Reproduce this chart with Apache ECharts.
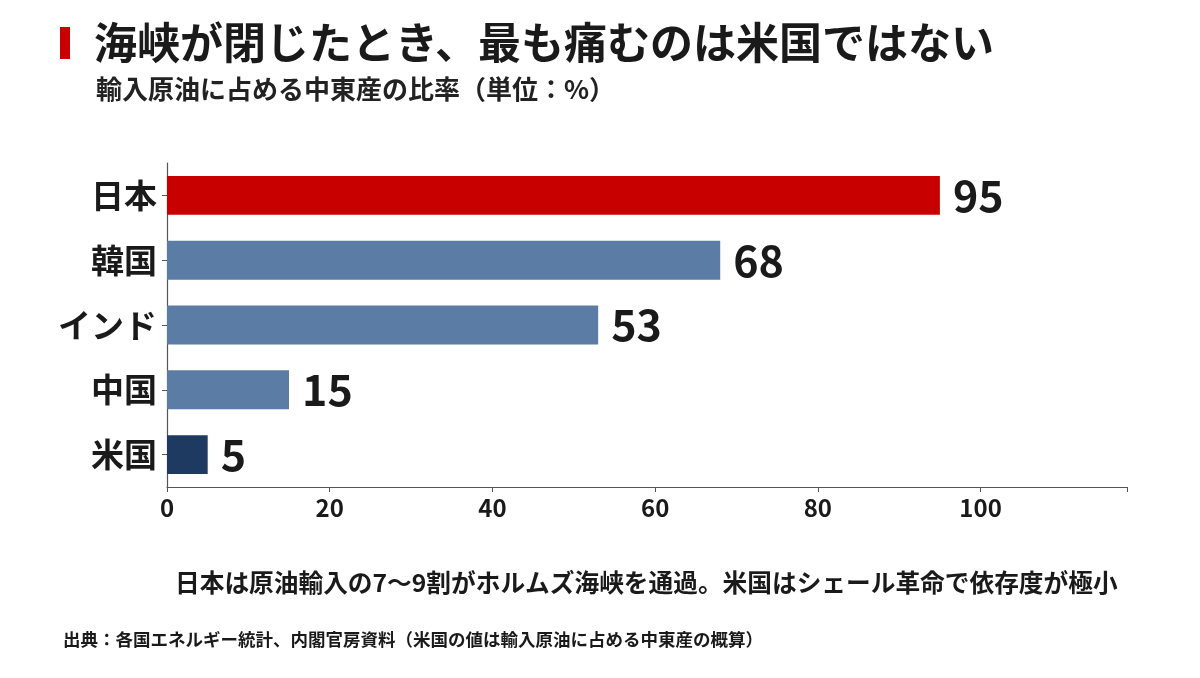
<!DOCTYPE html>
<html>
<head>
<meta charset="utf-8">
<script src="https://cdn.jsdelivr.net/npm/echarts@6/dist/echarts.min.js"></script>
<style>
html,body{margin:0;padding:0;background:#fff;}
#chart{width:1200px;height:678px;}
</style>
</head>
<body>
<div id="chart"></div>
<script>
const categories = ['日本', '韓国', 'インド', '中国', '米国'];
const values = [95, 68, 53, 15, 5];
const barColors = ['#c80000', '#5b7da5', '#5b7da5', '#5b7da5', '#1f3a60'];
const xTicks = [0, 20, 40, 60, 80, 100];
const titleText = '海峡が閉じたとき、最も痛むのは米国ではない';
const subtitleText = '輸入原油に占める中東産の比率（単位：%）';
const noteText = '日本は原油輸入の7〜9割がホルムズ海峡を通過。米国はシェール革命で依存度が極小';
const sourceText = '出典：各国エネルギー統計、内閣官房資料（米国の値は輸入原油に占める中東産の概算）';

const FONT = '"Noto Sans CJK JP", "Noto Sans", sans-serif';
const chart = echarts.init(document.getElementById('chart'));
chart.setOption({
  backgroundColor: '#fff',
  animation: false,
  textStyle: { fontFamily: FONT },
  title: [
    { text: titleText, left: 89, top: 16, textStyle: { fontFamily: FONT, fontSize: 43, fontWeight: 'bold', color: '#1a1a1a' } },
    { text: subtitleText, left: 91, top: 71, textStyle: { fontFamily: FONT, fontSize: 26, fontWeight: 'bold', color: '#222' } },
    { text: noteText, left: 170, top: 565, textStyle: { fontFamily: FONT, fontSize: 24.7, fontWeight: 'bold', color: '#1a1a1a' } },
    { text: sourceText, left: 58, top: 626, textStyle: { fontFamily: FONT, fontSize: 17.5, fontWeight: 'bold', color: '#1a1a1a' } }
  ],
  graphic: [
    { type: 'rect', left: 60, top: 27, shape: { width: 10, height: 32 }, style: { fill: '#c80000' } }
  ],
  grid: { left: 167, right: 73, top: 163, bottom: 191, containLabel: false },
  xAxis: {
    type: 'value', min: 0, max: 118, interval: 20,
    axisLine: { show: true, lineStyle: { color: '#555', width: 1.2 } },
    axisTick: { show: true, length: 5, lineStyle: { color: '#555' } },
    splitLine: { show: false },
    axisLabel: {
      fontSize: 24, color: '#1a1a1a', fontFamily: FONT, fontWeight: 'bold', margin: 9,
      formatter: v => (xTicks.indexOf(v) >= 0 ? String(v) : '')
    }
  },
  yAxis: {
    type: 'category', data: categories, inverse: true,
    axisLine: { show: true, lineStyle: { color: '#555', width: 1.2 } },
    axisTick: { show: true, alignWithLabel: true, length: 5, lineStyle: { color: '#555' } },
    axisLabel: { fontSize: 33, fontWeight: 'bold', color: '#1a1a1a', fontFamily: FONT, margin: 10 }
  },
  series: [{
    type: 'bar',
    data: values.map((v, i) => ({ value: v, itemStyle: { color: barColors[i] } })),
    barWidth: '60%',
    label: {
      show: true, position: 'right', distance: 13,
      fontSize: 43, fontWeight: 'bold', color: '#1a1a1a', fontFamily: FONT
    }
  }]
});
</script>
</body>
</html>
